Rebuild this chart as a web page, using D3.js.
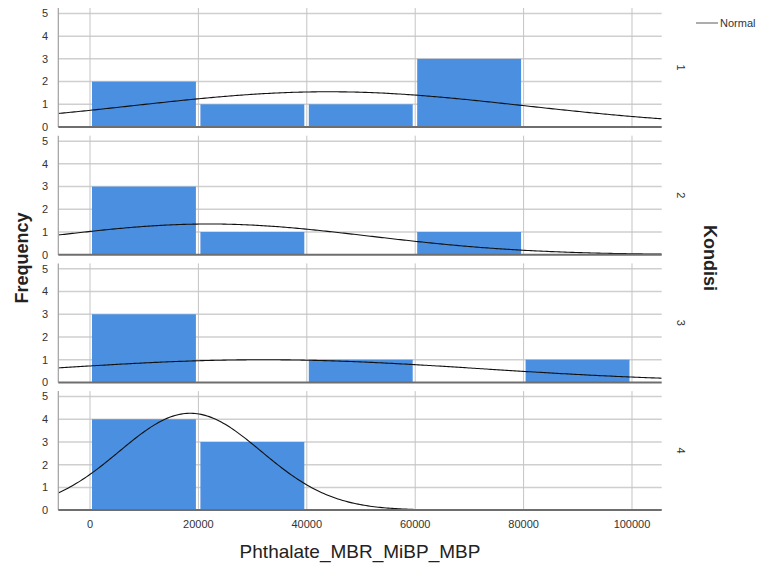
<!DOCTYPE html>
<html>
<head>
<meta charset="utf-8">
<script src="https://cdn.jsdelivr.net/npm/d3@7"></script>
<style>
  body { margin: 0; background: #fff; overflow: hidden; }
  text { font-family: "Liberation Sans", Arial, sans-serif; }
</style>
</head>
<body>
<div id="chartArea"></div>
<script>
// histogram data, one row per Kondisi
var kondisi = ["1", "2", "3", "4"];
var binEdges = [0, 20000, 40000, 60000, 80000, 100000];
var counts1 = [2, 1, 1, 3, 0];
var counts2 = [3, 1, 0, 1, 0];
var counts3 = [3, 0, 1, 0, 1];
var counts4 = [4, 3, 0, 0, 0];
var allCounts = [counts1, counts2, counts3, counts4];
// fitted normal curve parameters (mean, sd) for each panel
var normalMean = [44000, 22000, 32000, 18500];
var normalSD = [36000, 29500, 40000, 13100];
var xTicks = [0, 20000, 40000, 60000, 80000, 100000];
var yTicks = [0, 1, 2, 3, 4, 5];

var width = 757, height = 569;
var left = 58.3, right = 661.7;
var panelTop = 8, panelStep = 127.7, panelH = 119;

var svg = d3.select("#chartArea").append("svg")
    .attr("width", width)
    .attr("height", height);

var x = d3.scaleLinear().domain([-5850, 105480]).range([left, right]);
var binW = binEdges[1] - binEdges[0];

svg.append("defs").append("clipPath").attr("id", "clip")
    .append("rect").attr("x", left).attr("y", -2).attr("width", right - left).attr("height", panelH + 2);

kondisi.forEach(function(k, i) {
  var top = panelTop + i * panelStep;
  var y = d3.scaleLinear().domain([0, 5.24]).range([panelH, 0]);
  var g = svg.append("g").attr("transform", "translate(0," + top + ")");
  var counts = allCounts[i];
  var n = d3.sum(counts);

  // horizontal grid
  g.selectAll(".hgrid").data(yTicks.slice(1)).enter().append("line")
    .attr("x1", left).attr("x2", right)
    .attr("y1", function(d) { return y(d); }).attr("y2", function(d) { return y(d); })
    .attr("stroke", "#cfcfcf").attr("stroke-width", 1.5);

  // vertical grid
  g.selectAll(".vgrid").data(xTicks).enter().append("line")
    .attr("x1", function(d) { return x(d); }).attr("x2", function(d) { return x(d); })
    .attr("y1", 0).attr("y2", panelH)
    .attr("stroke", "#c4c4c4").attr("stroke-width", 1);

  // bars
  var bins = counts.map(function(c, j) { return {x0: binEdges[j], x1: binEdges[j + 1], c: c}; })
    .filter(function(d) { return d.c > 0; });
  g.selectAll(".bar").data(bins).enter().append("rect")
    .attr("x", function(d) { return x(d.x0) + 2; })
    .attr("width", function(d) { return x(d.x1) - x(d.x0) - 4.5; })
    .attr("y", function(d) { return y(d.c); })
    .attr("height", function(d) { return y(0) - y(d.c); })
    .attr("fill", "#4a8fe0");

  // normal curve
  var pts = d3.range(0, 301).map(function(s) {
    var xv = x.domain()[0] + s * (x.domain()[1] - x.domain()[0]) / 300;
    var z = (xv - normalMean[i]) / normalSD[i];
    var dens = n * binW * Math.exp(-0.5 * z * z) / (normalSD[i] * Math.sqrt(2 * Math.PI));
    return [xv, dens];
  });
  g.append("path").datum(pts)
    .attr("clip-path", "url(#clip)")
    .attr("fill", "none").attr("stroke", "#111").attr("stroke-width", 1.1)
    .attr("d", d3.line().x(function(d) { return x(d[0]); }).y(function(d) { return y(d[1]); }));

  // left axis line + baseline
  g.append("line").attr("x1", left).attr("x2", left).attr("y1", 0).attr("y2", panelH)
    .attr("stroke", "#a0a0a0").attr("stroke-width", 1.2);
  g.append("line").attr("x1", left).attr("x2", right).attr("y1", y(0)).attr("y2", y(0))
    .attr("stroke", "#6e6e6e").attr("stroke-width", 2);

  // y tick labels
  g.selectAll(".ylab").data(yTicks).enter().append("text")
    .attr("x", 45).attr("y", function(d) { return y(d); }).attr("dy", "0.35em")
    .attr("text-anchor", "middle").attr("font-size", 11).attr("fill", "#333")
    .text(function(d) { return d; });

  // panel label on right
  g.append("text")
    .attr("transform", "translate(677," + (panelH / 2) + ") rotate(90)")
    .attr("text-anchor", "middle").attr("font-size", 11).attr("fill", "#333")
    .text(k);
});

// x tick labels
svg.selectAll(".xlab").data(xTicks).enter().append("text")
  .attr("x", function(d) { return x(d); }).attr("y", 528)
  .attr("text-anchor", "middle").attr("font-size", 11).attr("fill", "#333")
  .text(function(d) { return d; });

// axis titles
svg.append("text").attr("x", 360).attr("y", 558)
  .attr("text-anchor", "middle").attr("font-size", 19).attr("fill", "#222")
  .text("Phthalate_MBR_MiBP_MBP");
svg.append("text").attr("transform", "translate(28,258) rotate(-90)")
  .attr("text-anchor", "middle").attr("font-size", 18).attr("font-weight", "bold").attr("fill", "#222")
  .text("Frequency");
svg.append("text").attr("transform", "translate(704,258) rotate(90)")
  .attr("text-anchor", "middle").attr("font-size", 18).attr("font-weight", "bold").attr("fill", "#222")
  .text("Kondisi");

// legend
svg.append("line").attr("x1", 696).attr("x2", 718).attr("y1", 23).attr("y2", 23)
  .attr("stroke", "#777").attr("stroke-width", 1.2);
svg.append("text").attr("x", 720).attr("y", 27).attr("font-size", 11).attr("fill", "#333")
  .text("Normal");
</script>
</body>
</html>
